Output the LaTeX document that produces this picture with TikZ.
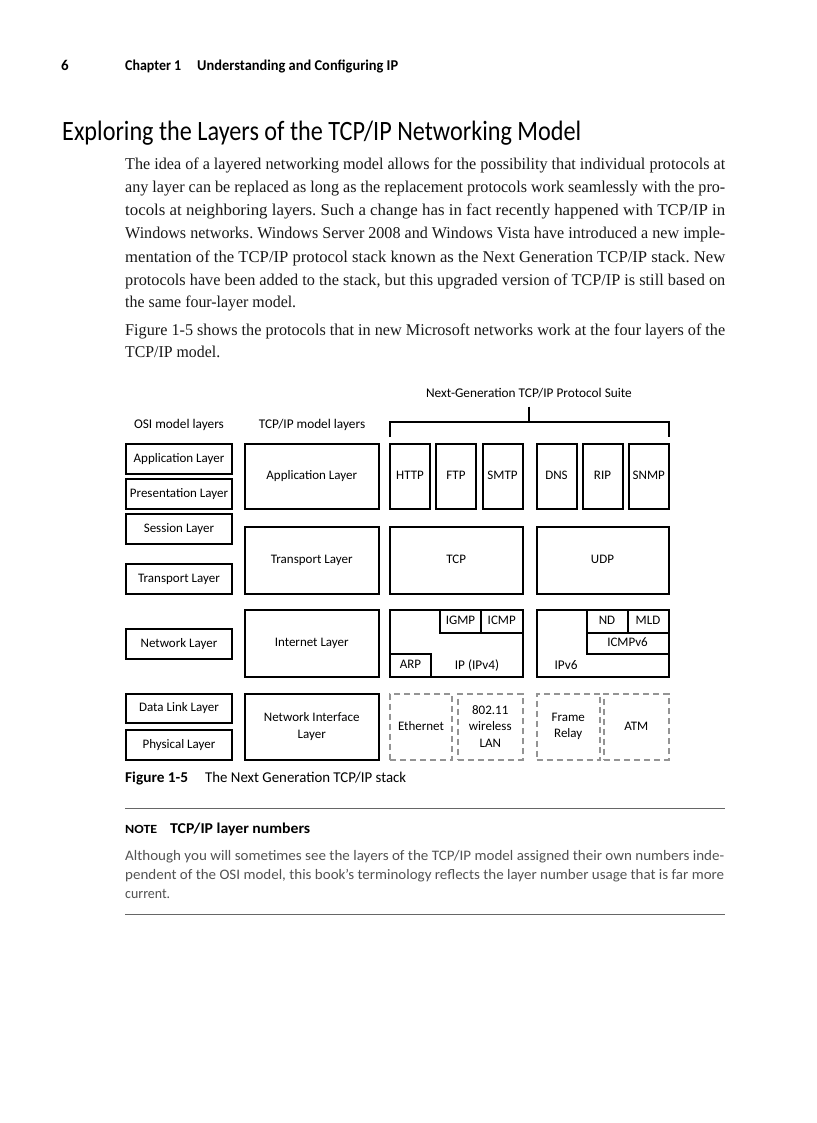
\documentclass[tikz,border=0pt]{standalone}
\usepackage{fontspec}
\setmainfont{Liberation Serif}
\newfontfamily\figfont{Carlito}
\usepackage{graphicx}
\frenchspacing
\newsavebox\fitbox
\newcommand\fitline[2]{\sbox\fitbox{#2}\resizebox{#1}{\ht\fitbox}{\usebox\fitbox}}
\newcommand\bx[7][]{\node[box,#1,minimum width={#5pt-#3pt},minimum height={#6pt-#4pt}] (#2) at ({(#3+#5)/2},{(#4+#6)/2}) {#7};}
\begin{document}
\begin{tikzpicture}[x=1pt,y=-1pt,
  box/.style={draw=black,line width=2pt,inner sep=0pt,font=\figfont\fontsize{13}{16.5}\selectfont,align=center,text height=9.5pt,text depth=2.5pt},
  ml/.style={text height={},text depth={}},
  dbox/.style={draw=black!42,dash pattern=on 6pt off 4pt},
  lbl/.style={inner sep=0pt,font=\figfont\fontsize{13.3}{16}\selectfont,text height=9.5pt,text depth=2.5pt},
  body/.style={inner sep=0pt,anchor=base west,text=black!90,font=\fontsize{16.5}{23}\selectfont},
  sans/.style={inner sep=0pt,anchor=base west,font=\figfont\fontsize{15}{17}\selectfont},
  sansb/.style={inner sep=0pt,anchor=base west,font=\figfont\bfseries\fontsize{15}{17}\selectfont},
  note/.style={inner sep=0pt,anchor=base west,text=black!68,font=\figfont\fontsize{14.5}{19}\selectfont},
  rule/.style={draw=black!60,line width=0.8pt},
  brk/.style={draw=black,line width=2pt}
]
\fill[white] (0,0) rectangle (816,1123);
\useasboundingbox (0,0) rectangle (816,1123);

% header
\node[sansb] (pnum) at (61,71) {6};
\node[sansb] (chap) at (125,71) {\fitline{56pt}{Chapter 1}};
\node[sansb] (chaptitle) at (197,71) {\fitline{201pt}{Understanding and Configuring IP}};

% title
\node[inner sep=0pt,anchor=base west,font=\figfont\fontsize{28}{32}\selectfont] (title) at (62,141) {\fitline{519pt}{Exploring the Layers of the TCP/IP Networking Model}};

% body text
\node[body] (l1) at (125,170) {\fitline{600pt}{The idea of a layered networking model allows for the possibility that individual protocols at}};
\node[body] (l2) at (125,193) {\fitline{600pt}{any layer can be replaced as long as the replacement protocols work seamlessly with the pro-}};
\node[body] (l3) at (125,216) {\fitline{600pt}{tocols at neighboring layers. Such a change has in fact recently happened with TCP/IP in}};
\node[body] (l4) at (125,239) {\fitline{600pt}{Windows networks. Windows Server 2008 and Windows Vista have introduced a new imple-}};
\node[body] (l5) at (125,262) {\fitline{600pt}{mentation of the TCP/IP protocol stack known as the Next Generation TCP/IP stack. New}};
\node[body] (l6) at (125,285) {\fitline{600pt}{protocols have been added to the stack, but this upgraded version of TCP/IP is still based on}};
\node[body] (l7) at (125,307) {\fitline{171pt}{the same four-layer model.}};
\node[body] (p1) at (125,335) {\fitline{600pt}{Figure 1-5 shows the protocols that in new Microsoft networks work at the four layers of the}};
\node[body] (p2) at (125,357) {\fitline{95pt}{TCP/IP model.}};

% figure labels
\node[lbl] (osilbl) at (179,425) {OSI model layers};
\node[lbl] (tcplbl) at (312,425) {TCP/IP model layers};
\node[lbl] (suite) at (529,394) {Next-Generation TCP/IP Protocol Suite};

% bracket
\coordinate (bl) at (390,437);
\coordinate (br) at (668.5,437);
\coordinate (bm) at (529,422);
\coordinate (bt) at (529,406.5);
\draw[brk] (bl) -- (bl |- bm) -- (br |- bm) -- (br);
\draw[brk] (bt) -- (bm);

% OSI column
\bx{osiapp}{126}{443.5}{232}{473.5}{Application Layer}
\bx{osipres}{126}{478.5}{232}{508.5}{Presentation Layer}
\bx{osisess}{126}{514}{232}{544}{Session Layer}
\bx{ositrans}{126}{563.5}{232}{593.5}{Transport Layer}
\bx{osinet}{126}{628.5}{232}{658.5}{Network Layer}
\bx{osidl}{126}{693.5}{232}{723}{Data Link Layer}
\bx{osiphy}{126}{730}{232}{760}{Physical Layer}

% TCP/IP column
\bx{tapp}{245}{443.5}{378.5}{509}{Application Layer}
\bx{ttrans}{245}{526.5}{378.5}{593.5}{Transport Layer}
\bx{tinet}{245}{610}{378.5}{676.5}{Internet Layer}
\bx[ml]{tnif}{245}{693.5}{378.5}{760}{Network Interface\\Layer}

% application protocols
\bx{http}{390}{443.5}{430}{509}{HTTP}
\bx{ftp}{436}{443.5}{476}{509}{FTP}
\bx{smtp}{482.5}{443.5}{522.5}{509}{SMTP}
\bx{dns}{536.5}{443.5}{576.5}{509}{DNS}
\bx{rip}{582.5}{443.5}{622.5}{509}{RIP}
\bx{snmp}{629}{443.5}{668.5}{509}{SNMP}

% transport
\bx{tcp}{390}{526.5}{522.5}{593.5}{TCP}
\bx{udp}{536.5}{526.5}{668.5}{593.5}{UDP}

% internet IPv4
\bx{ipv4}{390}{610}{522.5}{676.5}{}
\bx{igmp}{440}{610}{481}{632.5}{IGMP}
\bx{icmp}{481}{610}{522.5}{632.5}{ICMP}
\bx{arp}{390}{654}{431}{676.5}{ARP}
\node[lbl,anchor=base] (iptxt) at (477,669.5) {IP (IPv4)};

% internet IPv6
\bx{ipv6}{536.5}{610}{668.5}{676.5}{}
\bx{nd}{586.5}{610}{627.5}{632.5}{ND}
\bx{mld}{627.5}{610}{668.5}{632.5}{MLD}
\bx{icmpv6}{586.5}{632.5}{668.5}{654}{ICMPv6}
\node[lbl,anchor=base] (ipv6txt) at (566,669.5) {IPv6};

% network interface (dashed)
\bx[dbox]{eth}{390}{693.5}{452}{759.5}{Ethernet}
\bx[dbox,ml]{wlan}{458}{693.5}{522.5}{759.5}{802.11\\wireless\\LAN}
\bx[dbox,ml]{frelay}{536.5}{693.5}{600}{759.5}{Frame\\Relay}
\bx[dbox]{atm}{604}{693.5}{668.5}{759.5}{ATM}

% caption
\node[sansb] (capnum) at (125,782) {\fitline{63pt}{Figure 1-5}};
\node[sans] (captxt) at (205,782) {\fitline{201pt}{The Next Generation TCP/IP stack}};

% note
\coordinate (r1l) at (125,808);
\coordinate (r1r) at (725,808);
\draw[rule] (r1l) -- (r1r);
\node[inner sep=0pt,anchor=base west,font=\figfont\bfseries\fontsize{12.5}{14}\selectfont] (notelbl) at (125,833) {\fitline{32pt}{NOTE}};
\node[sansb] (notehead) at (170,833) {\fitline{140pt}{TCP/IP layer numbers}};
\node[note] (n1) at (125,860) {\fitline{599pt}{Although you will sometimes see the layers of the TCP/IP model assigned their own numbers inde-}};
\node[note] (n2) at (125,879) {\fitline{599pt}{pendent of the OSI model, this book’s terminology reflects the layer number usage that is far more}};
\node[note] (n3) at (125,898) {\fitline{45pt}{current.}};
\coordinate (r2l) at (125,914);
\coordinate (r2r) at (725,914);
\draw[rule] (r2l) -- (r2r);
\end{tikzpicture}
\end{document}
